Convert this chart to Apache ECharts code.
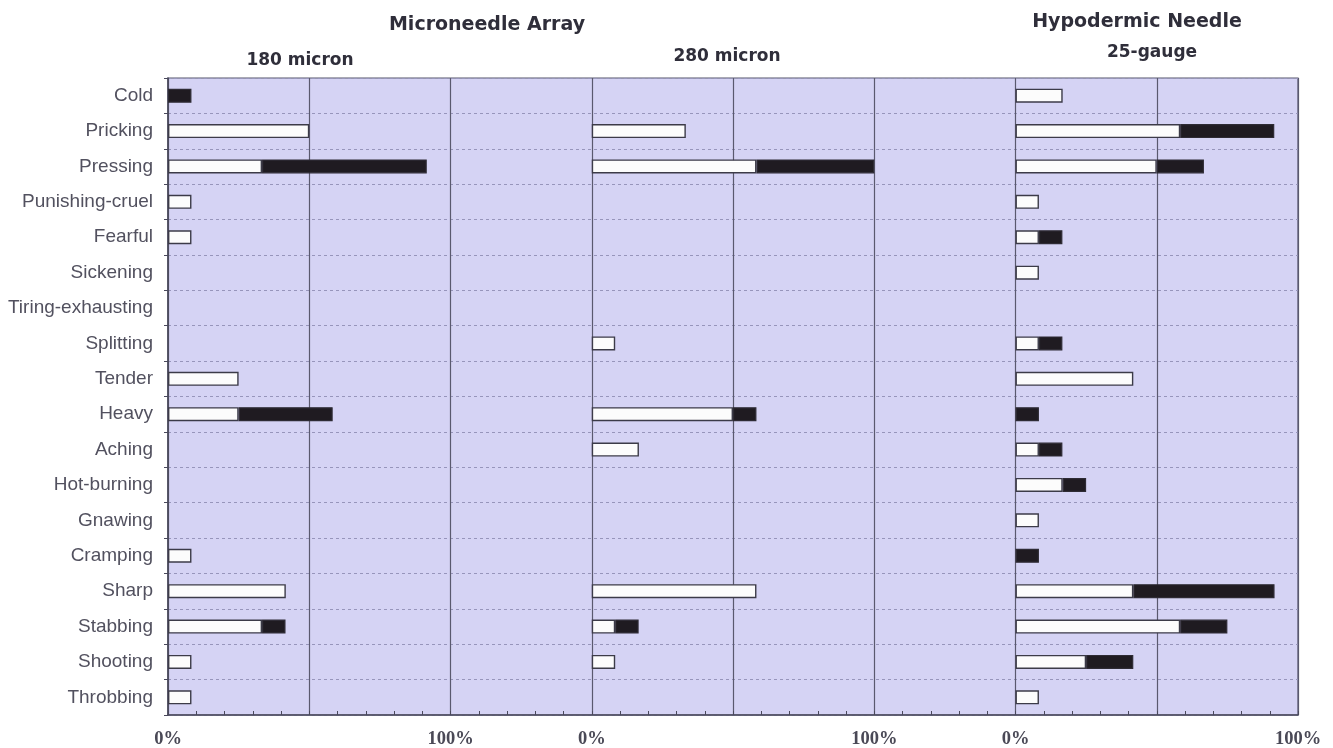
<!DOCTYPE html>
<html>
<head>
<meta charset="utf-8">
<title>Pain descriptors by needle type</title>
<script src="https://cdn.jsdelivr.net/npm/echarts@6/dist/echarts.min.js"></script>
<style>
  html, body { margin: 0; padding: 0; background: #ffffff; }
  #chart { width: 1333px; height: 748px; }
</style>
</head>
<body>
<div id="chart"></div>
<script>
// Pain descriptors (McGill-style), listed top to bottom
const categories = [
  'Cold', 'Pricking', 'Pressing', 'Punishing-cruel', 'Fearful', 'Sickening',
  'Tiring-exhausting', 'Splitting', 'Tender', 'Heavy', 'Aching', 'Hot-burning',
  'Gnawing', 'Cramping', 'Sharp', 'Stabbing', 'Shooting', 'Throbbing'
];

// Percentage of subjects choosing each descriptor (white = first part, black = second part)
const micron180White = [0, 50, 33.3, 8.3, 8.3, 0, 0, 0, 25, 25, 0, 0, 0, 8.3, 41.7, 33.3, 8.3, 8.3];
const micron180Black = [8.3, 0, 58.3, 0, 0, 0, 0, 0, 0, 33.3, 0, 0, 0, 0, 0, 8.3, 0, 0];

const micron280White = [0, 33.3, 58.3, 0, 0, 0, 0, 8.3, 0, 50, 16.7, 0, 0, 0, 58.3, 8.3, 8.3, 0];
const micron280Black = [0, 0, 41.7, 0, 0, 0, 0, 0, 0, 8.3, 0, 0, 0, 0, 0, 8.3, 0, 0];

const gauge25White = [16.7, 58.3, 50, 8.3, 8.3, 8.3, 0, 8.3, 41.7, 0, 8.3, 16.7, 8.3, 0, 41.7, 58.3, 25, 8.3];
const gauge25Black = [0, 33.3, 16.7, 0, 8.3, 0, 0, 8.3, 0, 8.3, 8.3, 8.3, 0, 8.3, 50, 16.7, 16.7, 0];

// Tick labels along the shared x axis (three 0-100% panels)
const tickValues = [0, 100, 150, 250, 300, 400];
const tickLabels = ['0%', '100%', '0%', '100%', '0%', '100%'];

// Panel headings
const groupTitles = ['Microneedle Array', 'Hypodermic Needle'];
const panelTitles = ['180 micron', '280 micron', '25-gauge'];

// ---- chart construction ----
const BAR_H = 14;
const whiteStyle = { color: '#fcfcfc', borderColor: '#3c3b48', borderWidth: 1.4 };
const blackStyle = { color: '#1f1b21', borderColor: '#2e2b34', borderWidth: 1.2 };

function blankZero(arr) { return arr.map(v => (v ? v : '-')); }

function panelSeries(stackId, offset, white, black) {
  const list = [];
  if (offset) {
    // invisible spacer that shifts the panel along the shared axis
    list.push({
      type: 'bar', stack: stackId, silent: true, barWidth: BAR_H, barGap: '-100%',
      data: categories.map(() => offset),
      itemStyle: { color: 'rgba(0,0,0,0)', borderWidth: 0 }
    });
  }
  list.push({
    type: 'bar', stack: stackId, barWidth: BAR_H, barGap: '-100%',
    data: blankZero(white), itemStyle: whiteStyle
  });
  list.push({
    type: 'bar', stack: stackId, barWidth: BAR_H, barGap: '-100%',
    data: blankZero(black), itemStyle: blackStyle
  });
  return list;
}

const series = [].concat(
  panelSeries('p1', 0, micron180White, micron180Black),
  panelSeries('p2', 150, micron280White, micron280Black),
  panelSeries('p3', 300, gauge25White, gauge25Black)
);

const titleColor = '#2f2e3a';
const headFont = 'bold 19px "DejaVu Sans", sans-serif';
const subFont = 'bold 17px "DejaVu Sans", sans-serif';

const chart = echarts.init(document.getElementById('chart'), null, { renderer: 'canvas' });
chart.setOption({
  backgroundColor: '#ffffff',
  animation: false,
  grid: {
    left: 168, right: 35, top: 78, bottom: 33,
    show: true,
    backgroundColor: '#d5d3f4',
    borderColor: '#55546a',
    borderWidth: 1.2,
    outerBoundsMode: 'none'
  },
  xAxis: {
    type: 'value',
    min: 0, max: 400, interval: 50,
    axisLine: { show: true, lineStyle: { color: '#4a495c', width: 1.6 } },
    axisTick: { show: true, inside: true, length: 4, lineStyle: { color: '#4a495c' } },
    minorTick: { show: true, splitNumber: 5, length: 4, lineStyle: { color: '#4a495c' } },
    splitLine: { show: true, lineStyle: { color: '#5a596e', width: 1.2 } },
    axisLabel: {
      margin: 15,
      fontFamily: '"Liberation Serif", serif',
      fontWeight: 'bold',
      fontSize: 18.5,
      color: '#4a4956',
      showMaxLabel: true,
      formatter: v => {
        const i = tickValues.indexOf(v);
        return i >= 0 ? tickLabels[i] : '';
      }
    }
  },
  yAxis: {
    type: 'category',
    inverse: true,
    data: categories,
    axisLine: { show: true, lineStyle: { color: '#4a495c', width: 1.6 } },
    axisTick: { show: true, length: 4, lineStyle: { color: '#4a495c' } },
    splitLine: {
      show: true, interval: 0,
      lineStyle: { color: '#9795bb', type: [3, 3], width: 1 }
    },
    axisLabel: {
      margin: 15,
      interval: 0,
      fontFamily: '"Liberation Sans", Arial, sans-serif',
      fontSize: 19,
      color: '#52515f'
    }
  },
  graphic: [
    { type: 'text', x: 487, y: 25, style: { text: groupTitles[0], font: headFont, fill: titleColor, textAlign: 'center', textVerticalAlign: 'middle' } },
    { type: 'text', x: 1137, y: 22, style: { text: groupTitles[1], font: headFont, fill: titleColor, textAlign: 'center', textVerticalAlign: 'middle' } },
    { type: 'text', x: 300, y: 61, style: { text: panelTitles[0], font: subFont, fill: titleColor, textAlign: 'center', textVerticalAlign: 'middle' } },
    { type: 'text', x: 727, y: 57, style: { text: panelTitles[1], font: subFont, fill: titleColor, textAlign: 'center', textVerticalAlign: 'middle' } },
    { type: 'text', x: 1152, y: 53, style: { text: panelTitles[2], font: subFont, fill: titleColor, textAlign: 'center', textVerticalAlign: 'middle' } }
  ],
  series: series
});
</script>
</body>
</html>
